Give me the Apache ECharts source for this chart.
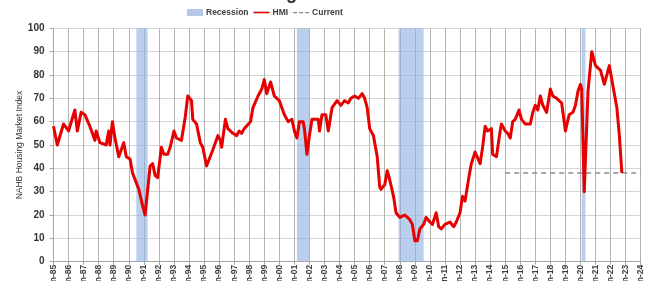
<!DOCTYPE html>
<html><head><meta charset="utf-8">
<script src="https://cdn.jsdelivr.net/npm/echarts@6/dist/echarts.min.js"></script>
<style>html,body{margin:0;padding:0;background:#fff}#c{width:648px;height:281px}</style>
</head><body><div id="c"></div>
<script>
// ---- data ----
const chartTitle = 'NAHB Housing Market Index';
const yAxisTitle = 'NAHB Housing Market Index';
const xTickLabels = ['Jan-85','Jan-86','Jan-87','Jan-88','Jan-89','Jan-90','Jan-91','Jan-92','Jan-93','Jan-94',
  'Jan-95','Jan-96','Jan-97','Jan-98','Jan-99','Jan-00','Jan-01','Jan-02','Jan-03','Jan-04',
  'Jan-05','Jan-06','Jan-07','Jan-08','Jan-09','Jan-10','Jan-11','Jan-12','Jan-13','Jan-14',
  'Jan-15','Jan-16','Jan-17','Jan-18','Jan-19','Jan-20','Jan-21','Jan-22','Jan-23','Jan-24'];
const hmiDates = ['1985-01','1985-04','1985-09','1986-01','1986-06','1986-08','1986-11','1987-02','1987-06','1987-10',
  '1987-11','1988-02','1988-07','1988-09','1988-10','1988-12','1989-02','1989-05','1989-09','1989-11',
  '1990-02','1990-04','1990-09','1990-12','1991-02','1991-06','1991-08','1991-10','1991-12','1992-03',
  '1992-05','1992-08','1992-10','1993-01','1993-03','1993-07','1993-10','1993-12','1994-03','1994-04',
  '1994-07','1994-10','1994-12','1995-03','1995-04','1995-08','1995-12','1996-02','1996-03','1996-06',
  '1996-08','1996-12','1997-03','1997-05','1997-07','1997-09','1998-02','1998-04','1998-08','1998-11',
  '1999-01','1999-03','1999-06','1999-09','2000-01','2000-05','2000-08','2000-11','2001-01','2001-03',
  '2001-05','2001-08','2001-09','2001-11','2002-01','2002-03','2002-05','2002-08','2002-09','2002-11',
  '2003-02','2003-04','2003-07','2003-11','2004-02','2004-05','2004-08','2004-10','2005-01','2005-04',
  '2005-07','2005-09','2005-11','2006-01','2006-04','2006-07','2006-09','2006-10','2007-01','2007-03',
  '2007-05','2007-08','2007-10','2008-01','2008-05','2008-09','2008-11','2009-01','2009-03','2009-05',
  '2009-08','2009-10','2010-01','2010-03','2010-06','2010-08','2010-10','2011-01','2011-05','2011-08',
  '2011-10','2012-01','2012-03','2012-05','2012-08','2012-10','2013-01','2013-05','2013-07','2013-09',
  '2013-11','2014-02','2014-03','2014-06','2014-09','2014-10','2015-01','2015-03','2015-05','2015-07',
  '2015-09','2015-12','2016-02','2016-05','2016-09','2016-11','2017-01','2017-03','2017-05','2017-07',
  '2017-10','2018-01','2018-03','2018-06','2018-10','2019-01','2019-04','2019-07','2019-09','2019-11',
  '2020-01','2020-02','2020-04','2020-07','2020-10','2021-01','2021-05','2021-08','2021-12','2022-02',
  '2022-06','2022-08','2022-10'];
const hmiValues = [58,50,59,56,65,56,64,63,58,52,
  56,51,50,56,50,60,53,45,51,45,
  44,38,31,24,20,41,42,37,36,49,
  46,46,49,56,53,52,62,71,69,61,
  59,51,49,41,41,48,54,52,49,61,
  57,55,54,56,55,57,60,66,71,74,
  78,72,77,71,69,63,60,61,56,53,
  60,60,57,46,54,61,61,61,56,63,
  63,56,66,69,67,69,68,70,71,70,
  72,70,66,57,54,45,32,31,33,39,
  35,28,21,19,20,18,16,9,9,14,
  16,19,17,16,21,15,14,16,17,15,
  17,21,28,26,36,42,47,42,49,58,
  56,57,46,45,56,59,56,55,53,60,
  61,65,61,59,59,64,67,65,71,67,
  64,74,71,70,68,56,63,64,67,73,
  76,74,30,73,90,84,82,76,84,78,
  66,54,38];
const currentValue = 38;
const currentFrom = '2015-01';
const currentTo = '2024-01';
const recessionStarts = ['1990-07','2001-03','2007-12','2020-02'];
const recessionEnds   = ['1991-04','2002-01','2009-08','2020-05'];

// ---- build chart ----
const toYear = s => { const p = s.split('-').map(Number); return p[0] + (p[1] - 1) / 12; };
const hmiData = hmiDates.map((d, i) => [toYear(d), hmiValues[i]]);
const recessionAreas = recessionStarts.map((s, i) => [{ xAxis: toYear(s) }, { xAxis: toYear(recessionEnds[i]) }]);
const firstYear = 1985, lastYear = 2024;

const FONT = 'Liberation Sans, Arial, sans-serif';
const chart = echarts.init(document.getElementById('c'), null, { renderer: 'canvas' });
chart.setOption({
  animation: false,
  backgroundColor: '#ffffff',
  title: {
    text: chartTitle, left: 168, top: -15, padding: 0,
    textStyle: { fontSize: 18, fontWeight: 'bold', color: '#262626', fontFamily: FONT }
  },
  legend: {
    left: 187, top: 8, itemGap: 5, itemWidth: 16, itemHeight: 7, padding: 0,
    textStyle: { fontSize: 8.5, fontWeight: 'bold', color: '#404040', fontFamily: FONT, padding: [0, 0, 0, -2] },
    data: [
      { name: 'Recession', icon: 'rect', itemStyle: { color: '#b4c9ea' } },
      { name: 'HMI', icon: 'path://M0,0 M0,2.5H20V4.5H0Z M0,7', itemStyle: { color: '#e00000' } },
      { name: 'Current', icon: 'path://M0,0 M0,3H5V4.5H0Z M7.5,3H12.5V4.5H7.5Z M15,3H20V4.5H15Z M0,7', itemStyle: { color: '#888888' } }
    ]
  },
  grid: { left: 53.5, right: 7.3, top: 28.3, bottom: 19.3, containLabel: false, outerBoundsMode: 'none' },
  xAxis: {
    type: 'value', min: firstYear, max: lastYear, interval: 1,
    axisLine: { show: true, lineStyle: { color: '#a6a6a6', width: 1 } },
    axisTick: { show: true, length: 3, lineStyle: { color: '#a6a6a6' } },
    splitLine: { show: true, lineStyle: { color: '#b3b3b3', width: 1 } },
    axisLabel: {
      rotate: 90, fontSize: 8.5, fontWeight: 'bold', color: '#404040', margin: 3, fontFamily: FONT,
      formatter: v => xTickLabels[Math.round(v - firstYear)] || ''
    }
  },
  yAxis: {
    type: 'value', min: 0, max: 100, interval: 10,
    name: yAxisTitle, nameLocation: 'middle', nameGap: 29, nameRotate: 90, nameMoveOverlap: false,
    nameTextStyle: { fontSize: 8.5, color: '#333333', fontFamily: FONT },
    axisLine: { show: true, lineStyle: { color: '#a6a6a6' } },
    axisTick: { show: true, length: 4, lineStyle: { color: '#a6a6a6' } },
    splitLine: { show: true, lineStyle: { color: '#d6d6d6', width: 1 } },
    axisLabel: { fontSize: 10, fontWeight: 'bold', color: '#333333', margin: 9, fontFamily: FONT }
  },
  series: [
    {
      name: 'Recession', type: 'line', data: [], silent: true,
      itemStyle: { color: '#b4c9ea' },
      markArea: { silent: true, itemStyle: { color: 'rgba(140,175,225,0.6)' }, data: recessionAreas }
    },
    {
      name: 'HMI', type: 'line', data: hmiData, symbol: 'none', z: 5,
      lineStyle: { color: '#e60000', width: 3, join: 'round' },
      itemStyle: { color: '#e60000' }
    },
    {
      name: 'Current', type: 'line', symbol: 'none', z: 4,
      data: [[toYear(currentFrom), currentValue], [toYear(currentTo), currentValue]],
      lineStyle: { color: '#8c8c8c', width: 1.5, type: [5, 4] },
      itemStyle: { color: '#8c8c8c' }
    }
  ]
});
</script>
</body></html>
